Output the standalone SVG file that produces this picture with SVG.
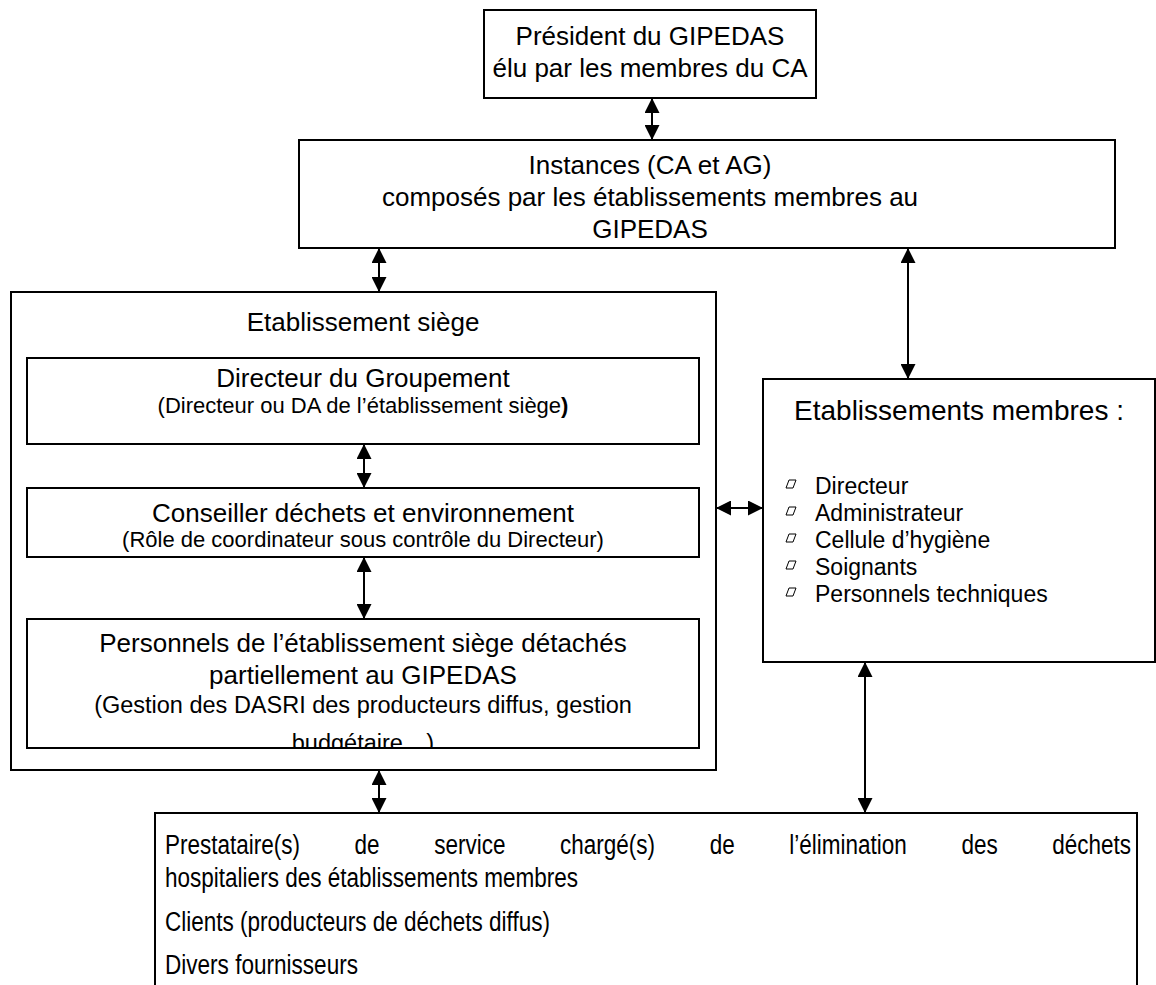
<svg xmlns="http://www.w3.org/2000/svg" width="1156" height="985" viewBox="0 0 1156 985">
<style>
.box{fill:#fff;stroke:#000;stroke-width:2}
.t{font-family:"Liberation Sans",Arial,sans-serif;font-size:26px;fill:#000}
.c{text-anchor:middle}
.s{font-size:22px}
.s3{font-size:23.5px}
.it{font-size:23px}
.h{font-size:28px}
.b{font-size:27px}
.con line{stroke:#000;stroke-width:2;marker-start:url(#ah);marker-end:url(#ah)}
.bul{fill:none;stroke:#000;stroke-width:1}
</style>
<defs>
<marker id="ah" markerUnits="userSpaceOnUse" markerWidth="15" markerHeight="15" refX="15" refY="7.5" orient="auto-start-reverse"><path d="M0,0 L15,7.5 L0,15 z" fill="#000"/></marker>
<path id="bp" d="M3,0 L10,0 L7,8 L0,8 Z"/>
<clipPath id="c3"><rect x="28" y="620" width="670" height="127"/></clipPath>
</defs>
<g id="president">
<rect class="box" x="484" y="10" width="332" height="88"/>
<text class="t c" x="650" y="45">Président du GIPEDAS</text>
<text class="t c" x="650" y="77">élu par les membres du CA</text>
</g>
<g id="instances">
<rect class="box" x="299" y="140" width="816" height="108"/>
<text class="t c" x="650" y="174">Instances (CA et AG)</text>
<text class="t c" x="650" y="206">composés par les établissements membres au</text>
<text class="t c" x="650" y="238">GIPEDAS</text>
</g>
<g id="siege">
<rect class="box" x="11" y="292" width="705" height="478"/>
<text class="t c" x="363" y="331">Etablissement siège</text>
</g>
<g id="directeur">
<rect class="box" x="27" y="358" width="672" height="86"/>
<text class="t c" x="363" y="387">Directeur du Groupement</text>
<text class="t c s" x="363" y="413">(Directeur ou DA de l’établissement siège<tspan font-weight="bold">)</tspan></text>
</g>
<g id="conseiller">
<rect class="box" x="27" y="488" width="672" height="69"/>
<text class="t c" x="363" y="522">Conseiller déchets et environnement</text>
<text class="t c s" x="363" y="547">(Rôle de coordinateur sous contrôle du Directeur)</text>
</g>
<g id="personnels">
<rect class="box" x="27" y="619" width="672" height="129"/>
<g clip-path="url(#c3)">
<text class="t c" x="363" y="652">Personnels de l’établissement siège détachés</text>
<text class="t c" x="363" y="684">partiellement au GIPEDAS</text>
<text class="t c s3" x="363" y="713">(Gestion des DASRI des producteurs diffus, gestion</text>
<text class="t c s3" x="363" y="751">budgétaire…)</text>
</g>
</g>
<g id="membres">
<rect class="box" x="763" y="379" width="392" height="283"/>
<text class="t c h" x="959" y="420">Etablissements membres :</text>
<use href="#bp" class="bul" x="786" y="480"/>
<text class="t it" x="815" y="494">Directeur</text>
<use href="#bp" class="bul" x="786" y="507"/>
<text class="t it" x="815" y="521">Administrateur</text>
<use href="#bp" class="bul" x="786" y="534"/>
<text class="t it" x="815" y="548">Cellule d’hygiène</text>
<use href="#bp" class="bul" x="786" y="561"/>
<text class="t it" x="815" y="575">Soignants</text>
<use href="#bp" class="bul" x="786" y="588"/>
<text class="t it" x="815" y="602">Personnels techniques</text>
</g>
<g id="prestataires">
<rect class="box" x="155" y="813" width="982" height="200"/>
<text class="t b" x="165" y="854" textLength="135" lengthAdjust="spacingAndGlyphs">Prestataire(s)</text>
<text class="t b" x="354.6" y="854" textLength="25" lengthAdjust="spacingAndGlyphs">de</text>
<text class="t b" x="434.2" y="854" textLength="71.3" lengthAdjust="spacingAndGlyphs">service</text>
<text class="t b" x="560.1" y="854" textLength="95" lengthAdjust="spacingAndGlyphs">chargé(s)</text>
<text class="t b" x="709.7" y="854" textLength="25" lengthAdjust="spacingAndGlyphs">de</text>
<text class="t b" x="789.3" y="854" textLength="117.5" lengthAdjust="spacingAndGlyphs">l’élimination</text>
<text class="t b" x="961.4" y="854" textLength="36.3" lengthAdjust="spacingAndGlyphs">des</text>
<text class="t b" x="1052.3" y="854" textLength="78.8" lengthAdjust="spacingAndGlyphs">déchets</text>
<text class="t b" x="165" y="887" textLength="413" lengthAdjust="spacingAndGlyphs">hospitaliers des établissements membres</text>
<text class="t b" x="165" y="931" textLength="385" lengthAdjust="spacingAndGlyphs">Clients (producteurs de déchets diffus)</text>
<text class="t b" x="165" y="974" textLength="193" lengthAdjust="spacingAndGlyphs">Divers fournisseurs</text>
</g>
<g id="connectors" class="con">
<line x1="652" y1="98" x2="652" y2="140"/>
<line x1="379" y1="248" x2="379" y2="292"/>
<line x1="908" y1="248" x2="908" y2="379"/>
<line x1="364" y1="444" x2="364" y2="488"/>
<line x1="364" y1="557" x2="364" y2="619"/>
<line x1="716" y1="508" x2="763" y2="508"/>
<line x1="379" y1="770" x2="379" y2="813"/>
<line x1="865" y1="662" x2="865" y2="813"/>
</g>
</svg>
